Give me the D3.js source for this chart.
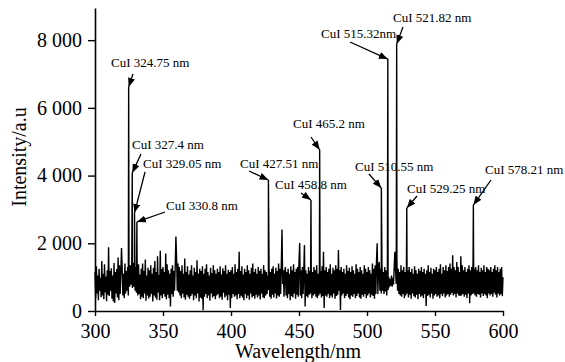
<!DOCTYPE html>
<html>
<head>
<meta charset="utf-8">
<script src="https://cdn.jsdelivr.net/npm/d3@7"></script>
<style>
  html, body { margin: 0; padding: 0; background: #fff; }
  svg { display: block; }
</style>
</head>
<body>
<svg id="chart" width="565" height="362"></svg>
<script>
// ---------------- DATA ----------------
const noiseStart = 300;   // nm
const noiseStep = 0.5;    // nm
const noiseIntensity = [
  1150,380,1320,520,1050,320,1250,600,980,410,1480,460,1100,350,1380,550,1020,290,1200,480,
  1880,440,1180,600,1260,360,1050,280,1420,240,1150,520,1240,400,1580,320,1350,500,1120,1860,
  1250,460,1100,380,1400,520,1180,600,1300,460,1250,720,1350,780,1200,680,1420,720,1280,600,
  1300,540,1150,460,1380,500,1080,350,1250,420,1400,380,1180,520,1520,300,1050,460,1280,370,
  1200,420,1350,510,1100,280,1280,460,1480,400,1150,330,1620,550,1060,320,1780,460,1240,380,
  1300,500,1150,420,1700,350,1380,480,1200,380,1100,130,1250,500,1350,420,1180,600,1320,2200,
  1550,600,1400,550,1300,460,1180,380,1350,520,1100,400,1550,330,1150,480,1320,420,1080,360,
  1200,440,1350,500,1050,320,1280,460,1150,380,1500,520,1100,280,1250,400,1180,360,1320,20,
  1100,420,1250,500,1380,380,1150,460,1050,300,1280,520,1120,400,1350,440,1200,350,1100,460,
  1250,500,1150,380,1320,420,1080,330,1260,540,1180,400,1350,460,1100,320,1220,480,1150,90,
  1200,380,1300,500,1100,420,1380,460,1150,350,1250,500,1750,380,1180,450,1320,400,1080,320,
  1250,500,1150,380,1350,460,1200,330,1100,520,1280,400,1400,440,1150,360,1250,480,1100,400,
  1300,460,1180,340,1250,520,1100,400,1350,380,1200,460,1150,500,1050,620,1280,420,1150,360,
  1250,480,1320,400,1100,520,1280,370,1180,460,1400,420,1250,500,1380,2410,800,1200,420,1150,
  1300,460,1150,380,1250,500,1100,320,1320,440,1200,400,1380,520,1150,360,1250,480,1300,420,
  1450,2010,460,1200,380,1300,500,1150,1950,130,1200,440,1100,400,1300,480,1180,520,1250,380,
  1150,460,1300,500,1200,420,1350,380,1100,460,1250,520,1180,400,1320,440,1750,90,1200,460,
  1300,420,1150,500,1250,380,1380,460,1100,400,1280,520,1200,360,1350,440,1250,480,1800,600,
  1200,30,1300,460,1150,520,1250,380,1100,440,1350,500,1180,400,1280,350,1150,460,1320,420,
  1200,500,1100,380,1380,440,1250,520,1150,400,1300,360,1200,480,1100,420,1350,500,1250,380,
  1150,460,1300,520,1200,400,1100,480,1400,440,1250,360,1350,500,1500,2000,500,1300,1450,600,
  1250,520,1400,600,1150,500,1300,580,1200,460,1100,620,1000,700,950,750,1050,720,980,780,
  1300,1750,1200,800,1500,600,1250,500,1150,460,1350,420,1200,500,1300,380,1150,460,1250,520,
  1200,400,1300,480,1150,360,1250,520,1100,440,1320,400,1200,480,1100,350,1250,500,1180,420,
  1300,460,1150,380,1250,500,1100,150,1200,440,1350,480,1150,400,1280,520,1100,360,1250,460,
  1200,500,1300,420,1150,460,1250,380,1380,500,1100,440,1300,520,1200,400,1350,460,1180,500,
  1300,420,1400,480,1250,540,1650,460,1300,500,1200,400,1450,520,1300,460,1150,440,1620,460,
  1350,500,1200,420,1300,480,1150,380,1250,520,1350,230,1200,460,1300,500,1550,520,1250,460,
  1300,420,1200,500,1350,480,1150,400,1280,520,1200,440,1350,500,1150,460,1300,380,1250,520,
  1200,460,1300,500,1150,420,1250,540,1350,480,1200,400,1300,520,1150,460,1250,500,1300,440,
  1000
];

const peakWavelengths = [324.75, 327.4, 329.05, 330.8, 427.51, 458.8, 465.2, 510.55, 515.32, 521.82, 529.25, 578.21];
const peakIntensities = [6620, 4080, 2900, 2630, 3870, 3280, 4760, 3630, 7440, 7890, 3040, 3130];
const peakLabels = ["CuI 324.75 nm", "CuI 327.4 nm", "CuI 329.05 nm", "CuI 330.8 nm", "CuI 427.51 nm",
  "CuI 458.8 nm", "CuI 465.2 nm", "CuI 510.55 nm", "CuI 515.32nm", "CuI 521.82 nm", "CuI 529.25 nm", "CuI 578.21 nm"];

const xTickValues = [300, 350, 400, 450, 500, 550, 600];
const xTickLabels = ["300", "350", "400", "450", "500", "550", "600"];
const yTickValues = [0, 2000, 4000, 6000, 8000];
const yTickLabels = ["0", "2 000", "4 000", "6 000", "8 000"];
const xTitle = "Wavelength/nm";
const yTitle = "Intensity/a.u";

// ---------------- LAYOUT (pixels, not data) ----------------
const labelLayout = [
  {tx: 111, ty: 67,  ax: 133, ay: 74},
  {tx: 132, ty: 149, ax: 141, ay: 154},
  {tx: 143, ty: 168, ax: 145, ay: 172},
  {tx: 166, ty: 210, ax: 165, ay: 212},
  {tx: 240, ty: 168, ax: 249, ay: 171},
  {tx: 275, ty: 189, ax: 301, ay: 193},
  {tx: 293, ty: 128, ax: 311, ay: 137},
  {tx: 355, ty: 171, ax: 369, ay: 174},
  {tx: 321, ty: 38,  ax: 350, ay: 42},
  {tx: 393, ty: 22,  ax: 403, ay: 27},
  {tx: 407, ty: 193, ax: 417, ay: 196},
  {tx: 485, ty: 174, ax: 491, ay: 180}
];

const font = "'Liberation Serif', 'Times New Roman', serif";

// ---------------- CHART ----------------
const svg = d3.select("#chart");
const x = d3.scaleLinear().domain([300, 600]).range([95, 503]);
const y = d3.scaleLinear().domain([0, 8950]).range([311, 8]);

const series = noiseIntensity.map((v, i) => ({w: noiseStart + i * noiseStep, v}));
peakWavelengths.forEach((w, i) => series.push({w, v: peakIntensities[i]}));
series.sort((a, b) => a.w - b.w);

svg.append("path")
  .datum(series)
  .attr("fill", "none")
  .attr("stroke", "#000")
  .attr("stroke-width", 1.4)
  .attr("stroke-linejoin", "miter")
  .attr("d", d3.line().x(d => x(d.w)).y(d => y(d.v)));

const xAxis = d3.axisBottom(x).tickValues(xTickValues)
  .tickFormat((d, i) => xTickLabels[i]).tickSizeInner(5).tickSizeOuter(0).tickPadding(8);
const yAxis = d3.axisLeft(y).tickValues(yTickValues)
  .tickFormat((d, i) => yTickLabels[i]).tickSizeInner(7).tickSizeOuter(0).tickPadding(6);

const gx = svg.append("g").attr("transform", "translate(0,311)").call(xAxis);
const gy = svg.append("g").attr("transform", "translate(95,0)").call(yAxis);
[gx, gy].forEach(g => {
  g.selectAll("path.domain").attr("stroke", "#000").attr("stroke-width", 1.6);
  g.selectAll(".tick line").attr("stroke", "#000").attr("stroke-width", 1.4);
  g.selectAll(".tick text").attr("fill", "#000")
    .style("font-family", font).style("font-size", "20px");
});

svg.append("text")
  .attr("x", 298).attr("y", 358)
  .attr("text-anchor", "middle")
  .style("font-family", font).style("font-size", "20px")
  .text(xTitle);
svg.append("text")
  .attr("transform", "translate(26,157) rotate(-90)")
  .attr("text-anchor", "middle")
  .style("font-family", font).style("font-size", "20px")
  .text(yTitle);

svg.append("defs").append("marker")
  .attr("id", "arrow")
  .attr("markerUnits", "userSpaceOnUse")
  .attr("viewBox", "0 0 10 8")
  .attr("refX", 10).attr("refY", 4)
  .attr("markerWidth", 9).attr("markerHeight", 7.5)
  .attr("orient", "auto")
  .append("path").attr("d", "M0,0 L10,4 L0,8 Z").attr("fill", "#000");

const ann = svg.append("g");
peakLabels.forEach((lab, i) => {
  const L = labelLayout[i];
  ann.append("line")
    .attr("x1", L.ax).attr("y1", L.ay)
    .attr("x2", x(peakWavelengths[i])).attr("y2", y(peakIntensities[i]))
    .attr("stroke", "#000").attr("stroke-width", 1.3)
    .attr("marker-end", "url(#arrow)");
  ann.append("text")
    .attr("x", L.tx).attr("y", L.ty)
    .style("font-family", font).style("font-size", "13px")
    .attr("fill", "#000")
    .text(lab);
});
</script>
</body>
</html>
